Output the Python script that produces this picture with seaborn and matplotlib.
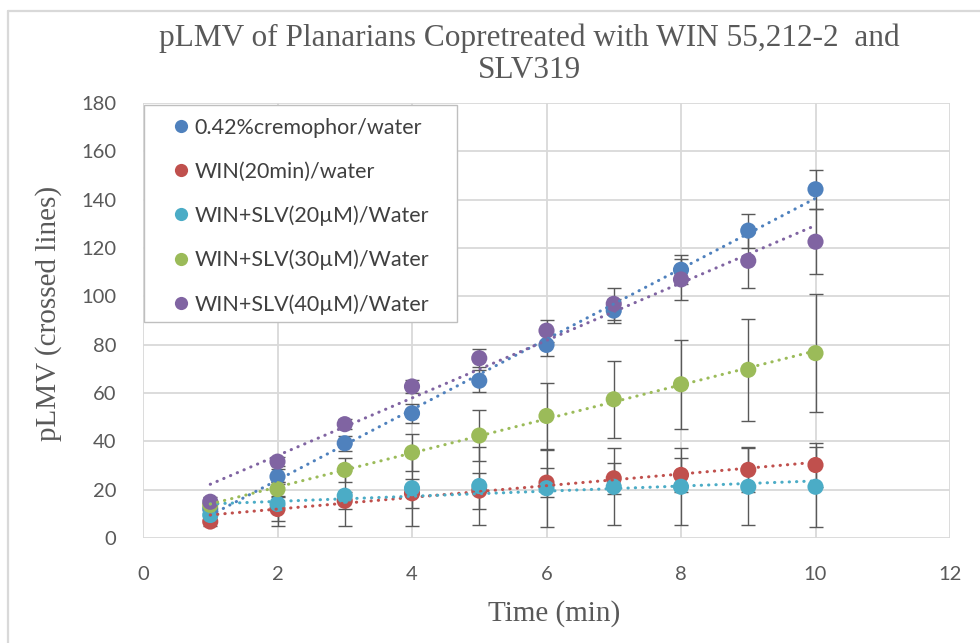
import numpy as np
import pandas as pd
import matplotlib
matplotlib.use("Agg")
import matplotlib.pyplot as plt
import seaborn as sns
from matplotlib.lines import Line2D
from matplotlib.patches import Rectangle

# ---- data -------------------------------------------------------------
time_min = [1, 2, 3, 4, 5, 6, 7, 8, 9, 10]

series_names = [
    "0.42%cremophor/water",
    "WIN(20min)/water",
    "WIN+SLV(20\u00b5M)/Water",
    "WIN+SLV(30\u00b5M)/Water",
    "WIN+SLV(40\u00b5M)/Water",
]
series_colors = ["#4F81BD", "#C0504D", "#4BACC6", "#9BBB59", "#8064A2"]

cremophor = [12.0, 25.4, 39.2, 51.6, 65.1, 79.9, 94.1, 111.0, 127.2, 144.3]
win_only = [6.8, 12.0, 15.4, 18.5, 19.6, 22.9, 24.7, 26.1, 28.2, 30.2]
slv_20 = [9.5, 14.1, 17.5, 20.6, 21.5, 20.6, 21.2, 21.2, 21.2, 21.2]
slv_30 = [13.7, 20.2, 28.2, 35.4, 42.4, 50.5, 57.4, 63.6, 69.6, 76.5]
slv_40 = [15.0, 31.6, 47.1, 62.7, 74.4, 85.8, 96.9, 107.0, 114.7, 122.6]

cremophor_err = [2.0, 3.0, 3.0, 4.0, 4.5, 4.5, 5.0, 6.0, 7.0, 8.0]
win_only_err = [2.0, 5.0, 3.5, 6.0, 7.4, 6.0, 6.5, 7.0, 9.3, 9.0]
slv_20_err = [2.0, 9.0, 12.5, 15.6, 16.0, 16.0, 16.0, 16.0, 16.0, 16.5]
slv_30_err = [2.0, 3.0, 5.0, 7.7, 10.5, 13.5, 16.0, 18.3, 21.2, 24.5]
slv_40_err = [2.0, 2.0, 2.0, 2.7, 3.7, 4.5, 6.5, 8.5, 11.4, 13.5]

x_ticks = [0, 2, 4, 6, 8, 10, 12]
y_ticks = [0, 20, 40, 60, 80, 100, 120, 140, 160, 180]

values = [cremophor, win_only, slv_20, slv_30, slv_40]
errors = [cremophor_err, win_only_err, slv_20_err, slv_30_err, slv_40_err]

df = pd.DataFrame(
    {
        "time": np.tile(time_min, len(series_names)),
        "value": np.concatenate(values),
        "series": np.repeat(series_names, len(time_min)),
    }
)

# ---- style ------------------------------------------------------------
sns.set_style("whitegrid", {"grid.color": "#D9D9D9", "axes.edgecolor": "#D9D9D9"})
SANS = ["Lato", "DejaVu Sans"]
SERIF = ["Liberation Serif", "DejaVu Serif"]
TEXT_GREY = "#595959"

W, H = 980, 643
fig = plt.figure(figsize=(W / 100, H / 100), dpi=100)
ax = fig.add_axes([143 / W, (H - 538) / H, (950 - 143) / W, (538 - 103) / H])

# error bars first, markers over them, trendlines on top
for y, e in zip(values, errors):
    ax.errorbar(time_min, y, yerr=e, fmt="none", ecolor=TEXT_GREY,
                elinewidth=1.0, capsize=4.8, capthick=1.0, zorder=2)

sns.scatterplot(data=df, x="time", y="value", hue="series",
                palette=series_colors, hue_order=series_names,
                s=135, linewidth=0, legend=False, zorder=3, ax=ax)

for y, c in zip(values, series_colors):
    sns.regplot(x=time_min, y=y, scatter=False, ci=None, truncate=True,
                color=c, ax=ax,
                line_kws=dict(lw=2.2, ls=(0, (0.1, 2.3)),
                              dash_capstyle="round", zorder=4))

# ---- axes -------------------------------------------------------------
ax.set_xlim(0, 12)
ax.set_ylim(0, 180)
ax.set_xticks(x_ticks)
ax.set_yticks(y_ticks)
ax.grid(True, color="#D9D9D9", lw=1.3)
for s in ax.spines.values():
    s.set_visible(False)
ax.tick_params(axis="both", length=0, labelcolor=TEXT_GREY, labelsize=14.5)
ax.tick_params(axis="x", pad=20)
ax.tick_params(axis="y", pad=19)
for lab in ax.get_xticklabels() + ax.get_yticklabels():
    lab.set_fontfamily(SANS)

ax.set_xlabel("Time (min)", family=SERIF, fontsize=21, color=TEXT_GREY)
ax.set_ylabel("pLMV (crossed lines)", family=SERIF, fontsize=21, color=TEXT_GREY)
ax.xaxis.set_label_coords((554 - 143) / 807, (538 - 614) / 435)
ax.xaxis.label.set_va("center")
ax.yaxis.set_label_coords((49 - 143) / 807, (538 - 313) / 435)
ax.yaxis.label.set_va("center")

fig.text(529 / W, 1 - 54 / H,
         "pLMV of Planarians Copretreated with WIN 55,212-2  and\nSLV319",
         ha="center", va="center", family=SERIF, fontsize=22.5,
         color=TEXT_GREY, linespacing=1.12)

# ---- legend -----------------------------------------------------------
frame = Rectangle(((144 - 143) / 807, (538 - 322) / 435), 313 / 807, 217 / 435,
                  transform=ax.transAxes, facecolor="white",
                  edgecolor="#BFBFBF", lw=1.0, zorder=5, clip_on=False)
ax.add_patch(frame)
handles = [Line2D([], [], ls="none", marker="o", markersize=9.5,
                  markerfacecolor=c, markeredgewidth=0) for c in series_colors]
fs = 15.5
fs_px = fs * 100 / 72
leg = ax.legend(handles, series_names, loc="upper left",
                bbox_to_anchor=((181 - 0.5 * fs_px - 143) / 807, (538 - 118) / 435),
                frameon=False, borderpad=0, borderaxespad=0,
                handlelength=1.0, handletextpad=0.12, labelspacing=1.1,
                prop={"family": SANS, "size": fs})
leg.set_zorder(6)
for t in leg.get_texts():
    t.set_color("#404040")

# ---- outer chart border -----------------------------------------------
fig.add_artist(Line2D([8 / W, 8 / W], [0, 1 - 11 / H], transform=fig.transFigure,
                      color="#D9D9D9", lw=1.6))
fig.add_artist(Line2D([8 / W, 1], [1 - 11 / H, 1 - 11 / H], transform=fig.transFigure,
                      color="#D9D9D9", lw=1.6))

fig.savefig("out.png", dpi=100)
